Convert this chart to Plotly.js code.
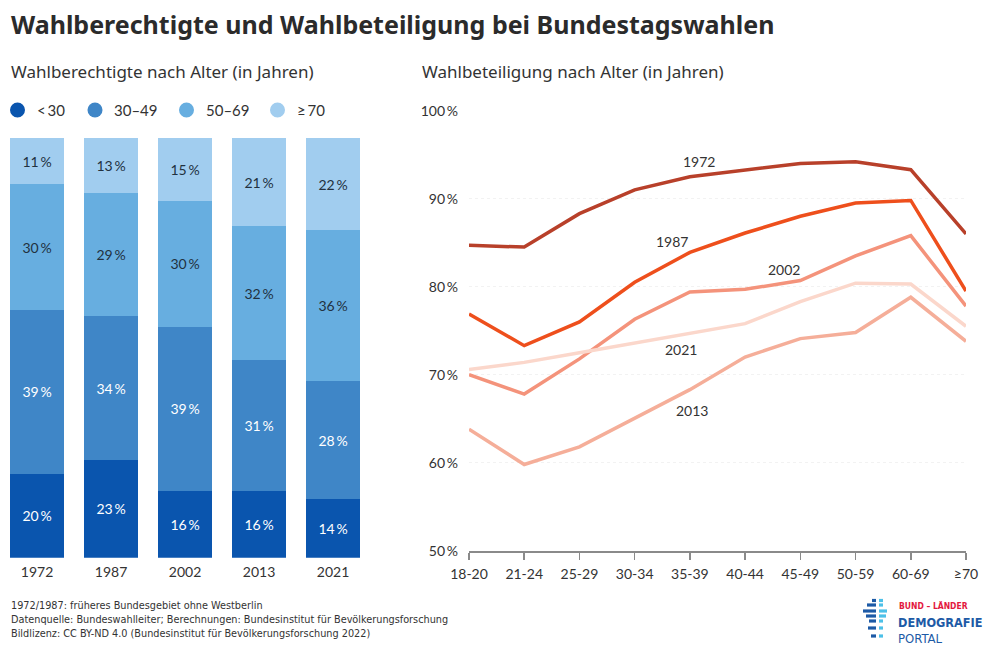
<!DOCTYPE html>
<html>
<head>
<meta charset="utf-8">
<script src="https://cdn.plot.ly/plotly-3.0.1.min.js"></script>
<style>
html,body{margin:0;padding:0;background:#fff;}
#chart{width:990px;height:650px;}
</style>
</head>
<body>
<div id="chart"></div>
<script>
// ---- data: eligible voters by age (share, %) ----
const electionYears = ['1972', '1987', '2002', '2013', '2021'];
const ageGroups = ['<30', '30–49', '50–69', '≥70'];
const shareUnder30 = [20, 23, 16, 16, 14];
const share30to49 = [39, 34, 39, 31, 28];
const share50to69 = [30, 29, 30, 32, 36];
const share70plus = [11, 13, 15, 21, 22];

// ---- data: turnout by age (%) ----
const turnoutAges = ['18-20', '21-24', '25-29', '30-34', '35-39', '40-44', '45-49', '50-59', '60-69', '≥70'];
const turnout1972 = [84.7, 84.5, 88.3, 91.0, 92.5, 93.3, 94.0, 94.2, 93.3, 86.0];
const turnout1987 = [76.9, 73.3, 76.0, 80.5, 83.9, 86.1, 88.0, 89.5, 89.8, 79.5];
const turnout2002 = [70.0, 67.8, 71.8, 76.3, 79.4, 79.7, 80.7, 83.5, 85.8, 77.8];
const turnout2013 = [63.8, 59.8, 61.8, 65.0, 68.3, 72.0, 74.1, 74.8, 78.8, 73.8];
const turnout2021 = [70.6, 71.4, 72.5, 73.6, 74.8, 75.8, 78.3, 80.4, 80.3, 75.5];
const turnoutYears = ['1972', '1987', '2002', '2013', '2021'];

// ---- styles ----
const W = 990, H = 650;
const px = x => x / W;
const py = y => 1 - y / H;
const FONT = 'Lato, "Noto Sans", sans-serif';
const HEAD = '"Noto Sans", "Open Sans", sans-serif';
const NARROW = '"DejaVu Sans Condensed", "Liberation Sans Narrow", sans-serif';
const TXT = '#333333';
const blueColors = ['#0a55ae', '#3f86c7', '#67aee0', '#a1cdef'];
const blueText = ['#ffffff', '#ffffff', '#22313f', '#22313f'];
const redColors = ['#b8402a', '#ee4f1c', '#f4937b', '#f5ae99', '#fbd7cb'];
const THIN = '\u2009';

const shareSeries = [shareUnder30, share30to49, share50to69, share70plus];
const turnoutSeries = [turnout1972, turnout1987, turnout2002, turnout2013, turnout2021];

const traces = [];
shareSeries.forEach((vals, i) => {
  traces.push({
    type: 'bar', x: electionYears, y: vals, name: ageGroups[i],
    xaxis: 'x', yaxis: 'y',
    marker: {color: blueColors[i], line: {width: 0}},
    text: vals.map(v => v + THIN + '%'),
    textposition: 'inside', insidetextanchor: 'middle', textangle: 0,
    textfont: {family: FONT, size: 14, color: blueText[i]},
    constraintext: 'none',
    hoverinfo: 'skip', showlegend: false
  });
});
turnoutSeries.forEach((vals, i) => {
  traces.push({
    type: 'scatter', mode: 'lines', x: turnoutAges, y: vals, name: turnoutYears[i],
    xaxis: 'x2', yaxis: 'y2',
    line: {color: redColors[i], width: 3.5, shape: 'linear'},
    hoverinfo: 'skip', showlegend: false
  });
});

const annotations = [];
const shapes = [];
// title + subtitles
annotations.push({text: '<b>Wahlberechtigte und Wahlbeteiligung bei Bundestagswahlen</b>', xref: 'paper', yref: 'paper',
  x: px(9), y: py(24), xanchor: 'left', yanchor: 'middle', showarrow: false,
  font: {family: HEAD, size: 25, color: '#2b2b2b'}});
annotations.push({text: 'Wahlberechtigte nach Alter (in Jahren)', xref: 'paper', yref: 'paper',
  x: px(9), y: py(71), xanchor: 'left', yanchor: 'middle', showarrow: false,
  font: {family: HEAD, size: 17, color: TXT}});
annotations.push({text: 'Wahlbeteiligung nach Alter (in Jahren)', xref: 'paper', yref: 'paper',
  x: px(420), y: py(71), xanchor: 'left', yanchor: 'middle', showarrow: false,
  font: {family: HEAD, size: 17, color: TXT}});

// legend (circles + labels) for age groups
const legendCx = [17.5, 95, 186.5, 277.5];
const legendTx = [35, 112, 204, 295];
ageGroups.forEach((g, i) => {
  shapes.push({type: 'circle', xref: 'paper', yref: 'paper',
    x0: px(legendCx[i] - 7.5), x1: px(legendCx[i] + 7.5), y0: py(110 + 7.5), y1: py(110 - 7.5),
    fillcolor: blueColors[i], line: {width: 0}});
  annotations.push({text: g.replace('<', '&lt;' + THIN).replace('≥', '≥' + THIN), xref: 'paper', yref: 'paper',
    x: px(legendTx[i]), y: py(110), xanchor: 'left', yanchor: 'middle', showarrow: false,
    font: {family: FONT, size: 15, color: TXT}});
});

// line labels
const lineLabelPos = [[4.17, 94.2], [3.68, 85.1], [5.70, 81.9], [4.04, 65.9], [3.84, 72.9]];
turnoutYears.forEach((yr, i) => {
  annotations.push({text: yr, xref: 'x2', yref: 'y2', x: lineLabelPos[i][0], y: lineLabelPos[i][1],
    xanchor: 'center', yanchor: 'middle', showarrow: false,
    font: {family: FONT, size: 14, color: TXT}});
});

// footer
const footerLines = [
  '1972/1987: früheres Bundesgebiet ohne Westberlin',
  'Datenquelle: Bundeswahlleiter; Berechnungen: Bundesinstitut für Bevölkerungsforschung',
  'Bildlizenz: CC BY-ND 4.0 (Bundesinstitut für Bevölkerungsforschung 2022)'
];
const footerY = [605, 619, 633];
footerLines.forEach((t, i) => {
  annotations.push({text: t, xref: 'paper', yref: 'paper', x: px(9), y: py(footerY[i]),
    xanchor: 'left', yanchor: 'middle', showarrow: false,
    font: {family: NARROW, size: 10.8, color: TXT}});
});

// logo
annotations.push({text: '<b>BUND – LÄNDER</b>', xref: 'paper', yref: 'paper', x: px(897), y: py(606),
  xanchor: 'left', yanchor: 'middle', showarrow: false, font: {family: NARROW, size: 8.5, color: '#e3173e'}});
annotations.push({text: '<b>DEMOGRAFIE</b>', xref: 'paper', yref: 'paper', x: px(896), y: py(622),
  xanchor: 'left', yanchor: 'middle', showarrow: false, font: {family: NARROW, size: 12.6, color: '#1d5aa6'}});
annotations.push({text: 'PORTAL', xref: 'paper', yref: 'paper', x: px(896), y: py(638),
  xanchor: 'left', yanchor: 'middle', showarrow: false, font: {family: NARROW, size: 13, color: '#1d5aa6'}});
const logoBars = [
  [872, 876, 600.5, '#1d5aa6'], [879, 883, 600.5, '#4cc0e8'],
  [867, 876, 605, '#1d5aa6'], [879, 883, 605, '#4cc0e8'],
  [863, 876, 611, '#1d5aa6'], [879, 887, 611, '#4cc0e8'],
  [866, 876, 616, '#1d5aa6'], [879, 886, 616, '#4cc0e8'],
  [869, 876, 621, '#1d5aa6'], [879, 883, 621, '#4cc0e8'],
  [868, 876, 628, '#1d5aa6'], [879, 883, 628, '#4cc0e8'],
  [871, 876, 636, '#1d5aa6'], [879, 883, 636, '#4cc0e8']
];
logoBars.forEach(b => {
  shapes.push({type: 'rect', xref: 'paper', yref: 'paper', x0: px(b[0]), x1: px(b[1]),
    y0: py(b[2] + 1.6), y1: py(b[2] - 1.6), fillcolor: b[3], line: {width: 0}});
});

const layout = {
  width: W, height: H,
  margin: {l: 0, r: 0, t: 0, b: 0},
  paper_bgcolor: '#ffffff', plot_bgcolor: 'rgba(0,0,0,0)',
  font: {family: FONT, color: TXT},
  barmode: 'stack', barnorm: 'percent', bargap: 0.28,
  showlegend: false,
  xaxis: {domain: [px(0), px(370)], anchor: 'y', type: 'category', range: [-0.5, 4.5],
    showgrid: false, zeroline: false, showline: false, ticks: '',
    tickfont: {family: FONT, size: 14, color: TXT}, ticklabelstandoff: 4, fixedrange: true},
  yaxis: {domain: [py(557.7), py(138)], anchor: 'x', range: [0, 100], visible: false, fixedrange: true},
  xaxis2: {domain: [px(469), px(966)], anchor: 'y2', type: 'category', range: [0, 9],
    showgrid: false, zeroline: false, showline: true, linecolor: '#8a8a8a', linewidth: 2,
    ticks: 'outside', ticklen: 7, tickwidth: 1.5, tickcolor: '#8a8a8a',
    tickfont: {family: FONT, size: 14, color: TXT}, ticklabelstandoff: 2, fixedrange: true},
  yaxis2: {domain: [py(550.7), py(110.7)], anchor: 'x2', range: [50, 100], dtick: 10,
    ticksuffix: THIN + '%', showgrid: true, gridcolor: '#f2f2f2', griddash: 'dot', gridwidth: 1,
    zeroline: false, showline: false, ticks: '', ticklabelstandoff: 10,
    tickfont: {family: FONT, size: 14, color: TXT}, fixedrange: true},
  annotations: annotations,
  shapes: shapes
};

Plotly.newPlot('chart', traces, layout, {staticPlot: true, displayModeBar: false});
</script>
</body>
</html>
